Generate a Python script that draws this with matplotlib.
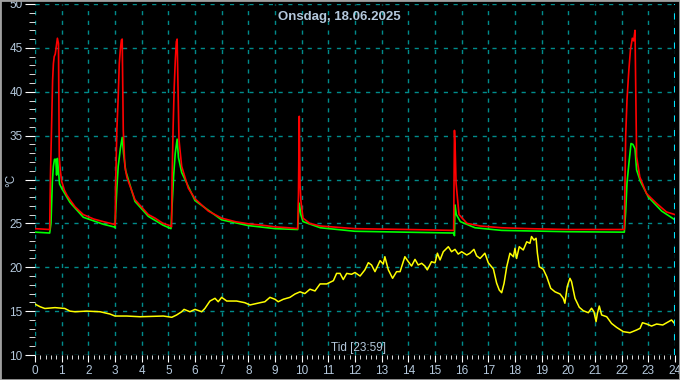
import matplotlib
matplotlib.use('Agg')
import matplotlib.pyplot as plt
from matplotlib.patches import Rectangle
from matplotlib.ticker import MultipleLocator, FuncFormatter

plt.rcParams['font.family'] = ['Liberation Sans', 'DejaVu Sans']

# red sensor (hours, degC)
red_t = [0.0, 0.55, 0.58, 0.62, 0.66, 0.69, 0.72, 0.76, 0.80, 0.84, 0.88, 0.91, 0.95, 1.0, 1.1, 1.2, 1.31, 1.5, 1.81, 2.2, 2.56, 2.96,
         3.01, 3.02, 3.07, 3.12, 3.16, 3.2, 3.24, 3.27, 3.31, 3.37, 3.45, 3.75, 4.25, 4.5, 4.8, 5.1,
         5.12, 5.14, 5.18, 5.22, 5.26, 5.3, 5.33, 5.36, 5.4, 5.5, 5.75, 6.0, 6.5, 7.0, 7.5, 8.0, 8.5, 9.0, 9.5, 9.85,
         9.88, 9.91, 9.94, 9.97, 10.05, 10.3, 10.7, 12.0, 14.0, 15.7, 15.73, 15.76, 15.79, 15.9, 16.2, 16.7, 17.5, 18.5, 20.0, 22.1,
         22.15, 22.2, 22.27, 22.33, 22.4, 22.45, 22.5, 22.56, 22.68, 22.93, 23.3, 23.68, 24.0]
red_v = [24.4, 24.3, 30.5, 35.8, 41.3, 43.2, 44.0, 44.3, 45.2, 46.1, 45.5, 32.6, 31.0, 29.8, 28.8, 28.2, 27.7, 26.9, 26.0, 25.5, 25.2, 24.9,
         24.8, 29.0, 35.6, 39.4, 43.2, 44.8, 45.9, 46.0, 35.6, 31.5, 30.2, 27.7, 26.0, 25.6, 25.0, 24.7,
         24.6, 30.0, 36.0, 40.5, 43.5, 45.7, 46.0, 41.0, 34.5, 31.5, 29.0, 27.8, 26.4, 25.6, 25.2, 24.95, 24.8, 24.6, 24.5, 24.4,
         28.2, 37.2, 29.4, 27.6, 25.6, 25.0, 24.7, 24.4, 24.3, 24.2, 35.6, 33.2, 29.6, 26.0, 25.0, 24.7, 24.5, 24.4, 24.3, 24.3,
         34.9, 39.1, 42.5, 44.8, 46.1, 45.8, 47.0, 32.6, 30.3, 28.4, 27.3, 26.3, 26.0]

# green sensor
green_t = [0.0, 0.55, 0.6, 0.65, 0.69, 0.73, 0.78, 0.81, 0.84, 0.88, 0.92, 1.0, 1.31, 1.81, 2.56, 2.96, 3.0,
           3.02, 3.07, 3.12, 3.2, 3.27, 3.32, 3.4, 3.75, 4.25, 4.8, 5.1,
           5.14, 5.2, 5.26, 5.33, 5.38, 5.5, 6.0, 7.0, 8.0, 9.0, 9.85,
           9.88, 9.91, 9.97, 10.05, 10.7, 12.0, 15.7, 15.73, 15.75, 15.8, 15.95, 16.5, 17.5, 20.0, 22.1,
           22.15, 22.2, 22.27, 22.35, 22.42, 22.5, 22.56, 22.7, 23.0, 23.5, 24.0]
green_v = [24.0, 23.9, 25.0, 29.75, 31.5, 32.3, 32.3, 30.5, 32.4, 31.0, 29.5, 29.0, 27.4, 25.7, 24.9, 24.6, 24.5,
           26.0, 29.0, 31.5, 33.5, 34.8, 33.0, 31.0, 27.5, 25.8, 24.8, 24.4,
           27.0, 30.5, 33.0, 34.6, 32.5, 30.8, 27.6, 25.4, 24.75, 24.4, 24.3,
           26.0, 27.3, 26.0, 25.2, 24.5, 24.1, 23.9, 23.6, 27.1, 26.0, 25.2, 24.5, 24.2, 24.05, 24.0,
           26.3, 29.6, 31.8, 34.1, 34.0, 33.5, 31.1, 29.8, 28.0, 26.4, 25.4]

# yellow sensor
yel_t = [0.0, 0.19, 0.37, 0.75, 1.12, 1.31, 1.5, 1.94, 2.44, 2.81, 3.0, 3.44, 3.94, 4.81, 5.13, 5.31, 5.5, 5.59, 5.81,
         6.0, 6.25, 6.37, 6.56, 6.75, 6.87, 7.0, 7.19, 7.56, 7.87, 8.06, 8.44, 8.62, 8.81, 9.0, 9.12, 9.31, 9.56, 9.75,
         9.94, 10.12, 10.31, 10.5, 10.69, 10.94, 11.19, 11.31, 11.44, 11.56, 11.69, 11.87, 12.0, 12.19, 12.37, 12.5,
         12.62, 12.75, 12.94, 13.06, 13.12, 13.25, 13.41, 13.56, 13.69, 13.79, 13.87, 14.0, 14.12, 14.25, 14.37, 14.5,
         14.62, 14.71, 14.87, 15.0, 15.09, 15.19, 15.31, 15.5, 15.62, 15.75, 15.87, 16.0, 16.19, 16.31, 16.46, 16.56,
         16.69, 16.87, 17.0, 17.19, 17.31, 17.41, 17.5, 17.59, 17.69, 17.81, 17.94, 18.0, 18.06, 18.16, 18.31, 18.44,
         18.56, 18.62, 18.71, 18.79, 18.84, 18.91, 19.06, 19.19, 19.34, 19.5, 19.69, 19.81, 19.87, 19.96, 20.06, 20.12,
         20.25, 20.41, 20.56, 20.75, 20.87, 20.96, 21.04, 21.09, 21.16, 21.25, 21.44, 21.62, 21.81, 22.06, 22.31, 22.56,
         22.69, 22.78, 22.94, 23.12, 23.31, 23.54, 23.69, 23.87, 24.0]
yel_v = [15.8, 15.5, 15.3, 15.4, 15.3, 15.0, 14.93, 15.0, 14.93, 14.67, 14.44, 14.44, 14.36, 14.44, 14.3, 14.56, 14.93, 15.2, 14.93,
         15.2, 14.93, 15.3, 16.15, 16.46, 16.07, 16.57, 16.15, 16.15, 15.96, 15.7, 15.96, 16.07, 16.57, 16.35, 16.07, 16.35, 16.57, 16.95,
         17.2, 17.0, 17.5, 17.3, 18.1, 18.1, 18.47, 19.3, 19.3, 18.6, 19.3, 19.2, 19.4, 19.0, 19.7, 20.52,
         20.26, 19.5, 20.75, 20.37, 21.2, 19.7, 18.74, 19.5, 19.5, 20.45, 21.2, 20.63, 20.14, 20.9, 20.26, 20.45,
         20.14, 19.7, 20.63, 20.5, 21.6, 20.83, 21.77, 22.34, 21.77, 22.04, 21.5, 21.77, 21.4, 21.6, 22.04, 21.3,
         21.0, 21.6, 20.5, 19.8, 18.2, 17.4, 17.1, 18.17, 20.06, 21.6, 21.2, 22.16, 21.0, 22.34, 21.97, 22.9,
         22.73, 23.5, 23.1, 23.3, 21.6, 20.06, 19.77, 18.93, 17.6, 17.2, 16.95, 16.46, 15.9, 17.8, 18.74, 18.36,
         16.46, 15.44, 15.05, 14.82, 15.33, 14.93, 13.8, 14.75, 15.58, 14.56, 14.36, 13.6, 13.15, 12.66, 12.54, 12.85,
         13.04, 13.68, 13.53, 13.3, 13.53, 13.42, 13.68, 13.99, 13.53]

title = 'Onsdag, 18.06.2025'
xlabel = 'Tid [23:59]'
ylabel = '°C'
label_col = '#b4c8dc'

fig = plt.figure(figsize=(6.8, 3.8), dpi=100, facecolor='black')
ax = fig.add_axes([35/680, 25/380, 640/680, 351/380])
ax.set_facecolor('black')

ax.plot(yel_t, yel_v, color='#ffff00', lw=1.1)
ax.plot(green_t, green_v, color='#00ff00', lw=1.2)
ax.plot(red_t, red_v, color='#ff0000', lw=1.2)

ax.set_xlim(0, 24)
ax.set_ylim(10, 50)
ax.xaxis.set_major_locator(MultipleLocator(1))
ax.xaxis.set_minor_locator(MultipleLocator(0.2))
ax.yaxis.set_major_locator(MultipleLocator(5))
ax.yaxis.set_minor_locator(MultipleLocator(1))
# the unit label sits where the 30 label would be
ax.yaxis.set_major_formatter(FuncFormatter(lambda v, p: '' if v == 30 else '%d' % v))
ax.tick_params(which='both', colors='white', labelcolor=label_col, labelsize=8.5)
ax.tick_params(axis='y', which='major', length=7, pad=2)
ax.tick_params(axis='y', which='minor', length=4)
ax.tick_params(axis='x', which='major', length=5, pad=2)
ax.tick_params(axis='x', which='minor', length=3)
for s in ax.spines.values():
    s.set_visible(False)

ax.grid(True, which='major', color='#008b8b', linestyle=(0, (3, 4)), lw=1)
ax.axvline(24, color='#00e5ff', linestyle=(0, (3, 4)), lw=1.5)

ax.text(0.475, 0.963, title, transform=ax.transAxes, ha='center', va='center',
        color=label_col, fontsize=9.5, fontweight='bold')
ax.text(0.506, 0.02, xlabel, transform=ax.transAxes, ha='center', va='center',
        color=label_col, fontsize=8.5)
fig.text(11/680, 1 - 180/380, ylabel, rotation=90, ha='center', va='center',
         color=label_col, fontsize=8.5)

fig.patches.append(Rectangle((0, 0), 1, 1, transform=fig.transFigure, fill=False,
                             edgecolor='#a0a0a0', lw=2))

fig.savefig('out.png', dpi=100, facecolor='black')
